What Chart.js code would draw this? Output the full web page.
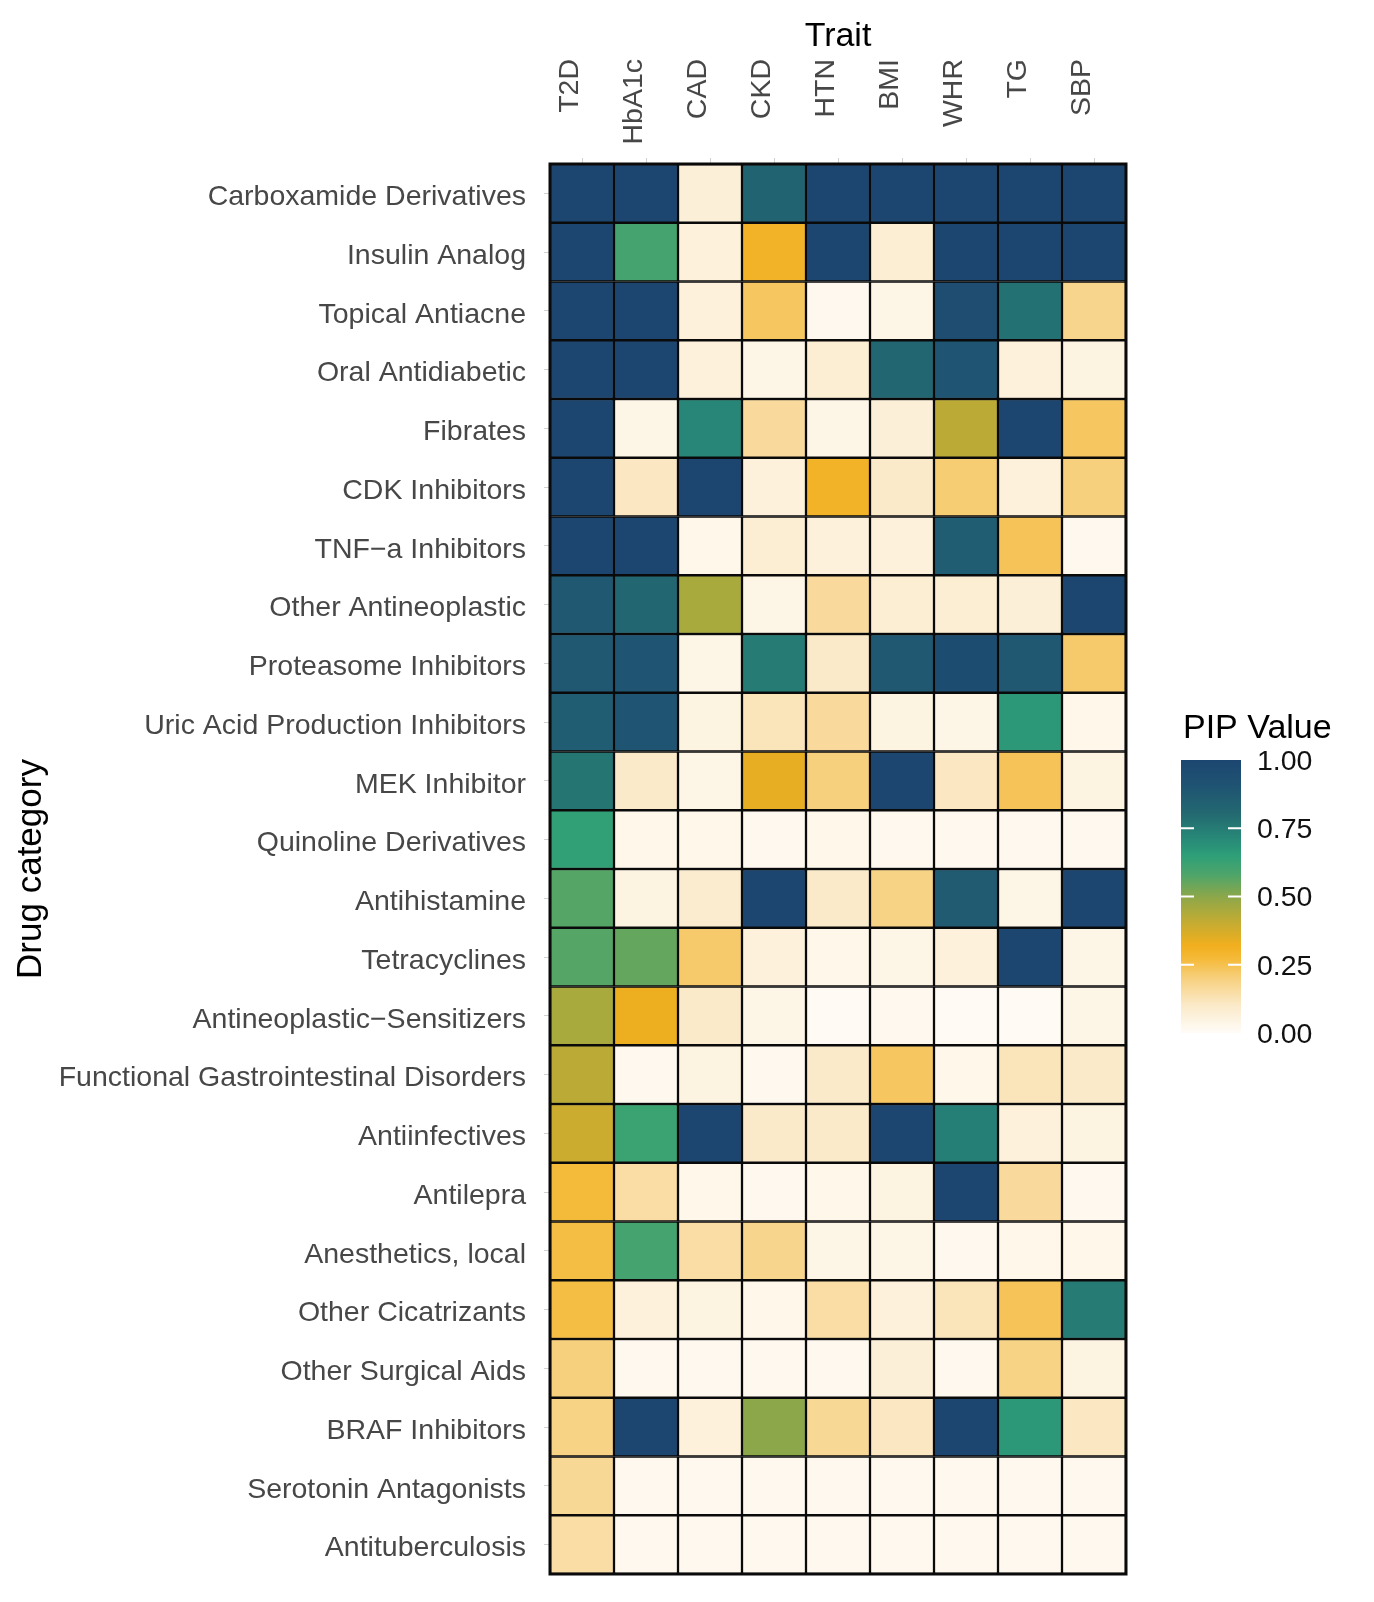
<!DOCTYPE html>
<html><head><meta charset="utf-8">
<script src="https://cdn.jsdelivr.net/npm/chart.js@4.4.0/dist/chart.umd.min.js"></script>
<style>html,body{margin:0;padding:0;background:#fff;}#wrap{width:1374px;height:1602px;position:relative;}</style>
</head><body><div id="wrap"><canvas id="c" width="1374" height="1602"></canvas></div>
<script>
const traits = ['T2D','HbA1c','CAD','CKD','HTN','BMI','WHR','TG','SBP'];
const drugs = ['Carboxamide Derivatives','Insulin Analog','Topical Antiacne','Oral Antidiabetic','Fibrates','CDK Inhibitors','TNF\u2212a Inhibitors','Other Antineoplastic','Proteasome Inhibitors','Uric Acid Production Inhibitors','MEK Inhibitor','Quinoline Derivatives','Antihistamine','Tetracyclines','Antineoplastic\u2212Sensitizers','Functional Gastrointestinal Disorders','Antiinfectives','Antilepra','Anesthetics, local','Other Cicatrizants','Other Surgical Aids','BRAF Inhibitors','Serotonin Antagonists','Antituberculosis'];

const pipT2D   = [1,1,1,1,1,1,1,0.88,0.88,0.86,0.77,0.64,0.57,0.57,0.45,0.42,0.39,0.27,0.26,0.26,0.20,0.19,0.17,0.15];
const pipHbA1c = [1,0.60,1,1,0.04,0.11,1,0.82,0.90,0.90,0.10,0.03,0.05,0.55,0.33,0.02,0.62,0.15,0.60,0.06,0.02,1,0.02,0.02];
const pipCAD   = [0.07,0.06,0.06,0.06,0.72,1,0.03,0.45,0.04,0.05,0.04,0.03,0.09,0.22,0.10,0.05,1,0.03,0.15,0.05,0.02,0.06,0.02,0.02];
const pipCKD   = [0.83,0.30,0.23,0.04,0.16,0.06,0.08,0.04,0.75,0.12,0.34,0.02,1,0.06,0.04,0.02,0.10,0.02,0.18,0.03,0.02,0.50,0.02,0.02];
const pipHTN   = [1,1,0.02,0.08,0.04,0.30,0.06,0.16,0.10,0.16,0.20,0.03,0.10,0.03,0.01,0.10,0.10,0.03,0.04,0.15,0.02,0.17,0.02,0.02];
const pipBMI   = [1,0.08,0.04,0.82,0.07,0.10,0.06,0.08,0.88,0.05,1,0.02,0.19,0.04,0.02,0.23,1,0.05,0.04,0.06,0.07,0.11,0.02,0.02];
const pipWHR   = [1,1,0.95,0.90,0.42,0.21,0.86,0.08,0.96,0.04,0.11,0.02,0.87,0.06,0.01,0.03,0.74,1,0.02,0.12,0.02,1,0.02,0.02];
const pipTG    = [1,1,0.78,0.06,1,0.06,0.24,0.07,0.88,0.67,0.24,0.02,0.04,1,0.01,0.12,0.06,0.16,0.03,0.24,0.19,0.67,0.02,0.02];
const pipSBP   = [1,1,0.18,0.05,0.23,0.20,0.02,1,0.22,0.03,0.05,0.02,1,0.04,0.04,0.10,0.05,0.02,0.03,0.75,0.05,0.11,0.02,0.02];
const pipByTrait = [pipT2D,pipHbA1c,pipCAD,pipCKD,pipHTN,pipBMI,pipWHR,pipTG,pipSBP];

const legendTicks = [0, 0.25, 0.5, 0.75, 1];
const legendTickLabels = ['0.00','0.25','0.50','0.75','1.00'];

const scaleStops  = [0, 0.10, 0.20, 0.27, 0.32, 0.42, 0.50, 0.58, 0.65, 0.72, 0.80, 0.90, 1];
const scaleColors = ['#FFFCF8','#FBEACA','#F7D07E','#F4BA3A','#F2AF1E','#BBAB36','#8CA74A','#4DA56A','#2E9F78','#278677','#236A71','#1F5472','#1C4670'];

function hexToRgb(h){return [parseInt(h.slice(1,3),16),parseInt(h.slice(3,5),16),parseInt(h.slice(5,7),16)];}
function pipColor(v){
  v = Math.max(0, Math.min(1, v));
  for (let k = 0; k < scaleStops.length - 1; k++) {
    if (v <= scaleStops[k+1]) {
      const t = (v - scaleStops[k]) / (scaleStops[k+1] - scaleStops[k]);
      const a = hexToRgb(scaleColors[k]), b = hexToRgb(scaleColors[k+1]);
      return 'rgb(' + a.map((c,i)=>Math.round(c + (b[i]-c)*t)).join(',') + ')';
    }
  }
  return scaleColors[scaleColors.length-1];
}

const FONT = '"Liberation Sans", Arial, sans-serif';

const datasets = traits.map((t, i) => ({
  label: t,
  data: drugs.map((d, j) => ({ y: d, x: [i, i + 1], v: pipByTrait[i][j] })),
  backgroundColor: ctx => pipColor(ctx.raw ? ctx.raw.v : 0),
  borderColor: '#0a0a0a',
  borderWidth: 1.5,
  borderSkipped: false,
  barPercentage: 1,
  categoryPercentage: 1,
  grouped: false
}));

const framePlugin = {
  id: 'frame',
  afterDatasetsDraw(chart) {
    const {ctx, chartArea: a} = chart;
    ctx.save();
    ctx.strokeStyle = '#0a0a0a';
    ctx.lineWidth = 3;
    ctx.strokeRect(a.left, a.top, a.right - a.left, a.bottom - a.top);
    ctx.restore();
  }
};

const xLabelPlugin = {
  id: 'xLabels',
  afterDraw(chart) {
    const {ctx} = chart;
    const xs = chart.scales.x;
    ctx.save();
    ctx.font = '28.5px ' + FONT;
    ctx.fillStyle = '#474747';
    ctx.textAlign = 'right';
    ctx.textBaseline = 'middle';
    xs.ticks.forEach((tk) => {
      const px = xs.getPixelForValue(tk.value);
      ctx.save();
      ctx.translate(px - 12, 59);
      ctx.rotate(-Math.PI / 2);
      ctx.fillText(traits[Math.floor(tk.value)], 0, 0);
      ctx.restore();
    });
    ctx.restore();
  }
};

const colorbarPlugin = {
  id: 'colorbar',
  afterDraw(chart) {
    const {ctx} = chart;
    const left = 1181, right = 1241, top = 760, bottom = 1033;
    ctx.save();
    ctx.font = '34px ' + FONT;
    ctx.fillStyle = '#000';
    ctx.textAlign = 'left';
    ctx.textBaseline = 'middle';
    ctx.fillText('PIP Value', 1183, 729);
    const g = ctx.createLinearGradient(0, bottom, 0, top);
    scaleStops.forEach((s, k) => g.addColorStop(s, scaleColors[k]));
    ctx.fillStyle = g;
    ctx.fillRect(left, top, right - left, bottom - top);
    ctx.strokeStyle = '#fff';
    ctx.lineWidth = 2;
    ctx.font = '28.5px ' + FONT;
    legendTicks.forEach((v, k) => {
      const y = bottom - v * (bottom - top);
      if (v > 0 && v < 1) {
        ctx.beginPath();
        ctx.moveTo(left, y); ctx.lineTo(left + 13, y);
        ctx.moveTo(right - 13, y); ctx.lineTo(right, y);
        ctx.stroke();
      }
      ctx.fillStyle = '#111';
      ctx.fillText(legendTickLabels[k], 1257, y + 2);
    });
    ctx.restore();
  }
};

new Chart(document.getElementById('c'), {
  type: 'bar',
  data: { labels: drugs, datasets },
  options: {
    indexAxis: 'y',
    responsive: false,
    animation: false,
    devicePixelRatio: 1,
    layout: { padding: { left: 0, top: 0, right: 248, bottom: 28 } },
    plugins: { legend: { display: false }, tooltip: { enabled: false } },
    scales: {
      x: {
        type: 'linear',
        position: 'top',
        min: 0, max: traits.length,
        afterBuildTicks: s => { s.ticks = traits.map((t, i) => ({ value: i + 0.5 })); },
        afterFit: s => { s.height = 164; s.paddingLeft = 0; s.paddingRight = 0; },
        ticks: { color: 'rgba(0,0,0,0)', minRotation: 0, maxRotation: 0, autoSkip: false,
                 font: { family: FONT, size: 12 }, callback: v => traits[Math.floor(v)] },
        grid: { drawOnChartArea: false, tickLength: 6, color: '#D2D2D2', lineWidth: 1 },
        border: { display: false },
        title: { display: true, text: 'Trait', color: '#000', font: { family: FONT, size: 34 }, padding: { top: 16, bottom: 0 } }
      },
      y: {
        type: 'category',
        offset: true,
        afterFit: s => { s.width = 550; s.paddingTop = 0; s.paddingBottom = 0; },
        ticks: { color: '#474747', font: { family: FONT, size: 28.5 }, padding: 18, autoSkip: false, labelOffset: 4 },
        grid: { offset: false, drawOnChartArea: false, tickLength: 6, color: '#D2D2D2', lineWidth: 1 },
        border: { display: false },
        title: { display: true, text: 'Drug category', color: '#000', font: { family: FONT, size: 35 }, padding: { top: 10, bottom: 0 } }
      }
    }
  },
  plugins: [framePlugin, xLabelPlugin, colorbarPlugin]
});
</script></body></html>
